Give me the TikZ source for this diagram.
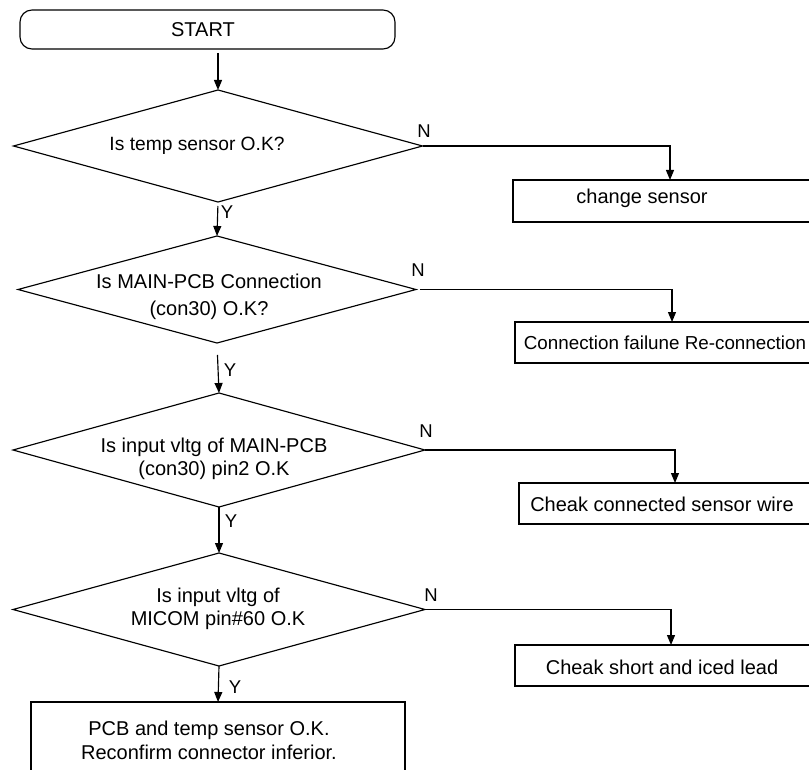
\documentclass[tikz,border=0pt]{standalone}
\usepackage{fontspec}
\setmainfont{Liberation Sans}
\usetikzlibrary{shapes.geometric,arrows.meta}
\begin{document}
\begin{tikzpicture}[x=1pt,y=-1pt,
  line width=1.15pt,
  dec/.style={diamond,draw,inner sep=0pt,outer sep=0pt},
  box/.style={rectangle,draw,inner sep=0pt,outer sep=0pt},
  txt/.style={font=\fontsize{20}{24}\selectfont,align=center,inner sep=0pt},
  lab/.style={font=\fontsize{18.5}{20}\selectfont,inner sep=0pt},
  arr/.style={-{Triangle[length=10pt,width=8pt]}}]
\useasboundingbox[fill=white] (0,0) rectangle (809,770);
% start
\node[box,rounded corners=12pt,minimum width=375pt,minimum height=39pt] (start) at (207.5,29.5) {};
\node[txt] (startt) at (203,29.5) {START};
% decisions
\node[dec,minimum width=409pt,minimum height=112pt] (d1) at (218,146) {};
\node[txt,font=\fontsize{19.2}{24}\selectfont] (d1t) at (197,146) {Is temp sensor O.K?};
\node[dec,minimum width=398pt,minimum height=107pt] (d2) at (217,289.5) {};
\node[txt,font=\fontsize{20}{27}\selectfont] (d2t) at (209,297) {Is MAIN-PCB Connection\\(con30) O.K?};
\node[dec,minimum width=412pt,minimum height=114pt] (d3) at (219,450) {};
\node[txt,font=\fontsize{20}{23}\selectfont] (d3t) at (214,459) {Is input vltg of MAIN-PCB\\(con30) pin2 O.K};
\node[dec,minimum width=412pt,minimum height=113pt] (d4) at (219,609.5) {};
\node[txt,font=\fontsize{20}{23}\selectfont] (d4t) at (218,609) {Is input vltg of\\MICOM pin\#60 O.K};
% action boxes
\node[box,minimum width=314pt,minimum height=42pt] (b1) at (670,201) {};
\node[txt] (b1t) at (642,198) {change sensor};
\node[box,minimum width=314pt,minimum height=41pt] (b2) at (672,342.5) {};
\node[txt,font=\fontsize{18.8}{24}\selectfont] (b2t) at (665,343) {Connection failune Re-connection};
\node[box,minimum width=312pt,minimum height=41pt] (b3) at (675,503.5) {};
\node[txt] (b3t) at (662,504) {Cheak connected sensor wire};
\node[box,minimum width=312pt,minimum height=41pt] (b4) at (671,665.5) {};
\node[txt] (b4t) at (662,667) {Cheak short and iced lead};
\node[box,minimum width=374pt,minimum height=90pt] (fin) at (218,747) {};
\node[txt] (fint) at (209,740) {PCB and temp sensor O.K.\\Reconfirm connector inferior.};
% connectors
\draw[arr,shorten <=4pt] (d1.north |- start.south) -- (d1.north);
\draw[arr,shorten <=4pt] (d1.south) -- (d2.north);
\draw[arr,shorten <=12pt] (d2.south) -- (d3.north);
\draw[arr] (d3.south) -- (d4.north);
\draw[arr] (d4.south) -- (fin.north);
\draw[arr] (d1.east) -| (b1.north);
\draw[arr,shorten <=4pt] (d2.east) -| (b2.north);
\draw[arr] (d3.east) -| (b3.north);
\draw[arr] (d4.east) -| (b4.north);
% labels
\node[lab] (n1) at (424,131) {N};
\node[lab] (n2) at (418,270) {N};
\node[lab] (n3) at (426,431) {N};
\node[lab] (n4) at (431,595) {N};
\node[lab] (y1) at (227,212) {Y};
\node[lab] (y2) at (230,370) {Y};
\node[lab] (y3) at (231,521) {Y};
\node[lab] (y4) at (235,687) {Y};
\end{tikzpicture}
\end{document}
